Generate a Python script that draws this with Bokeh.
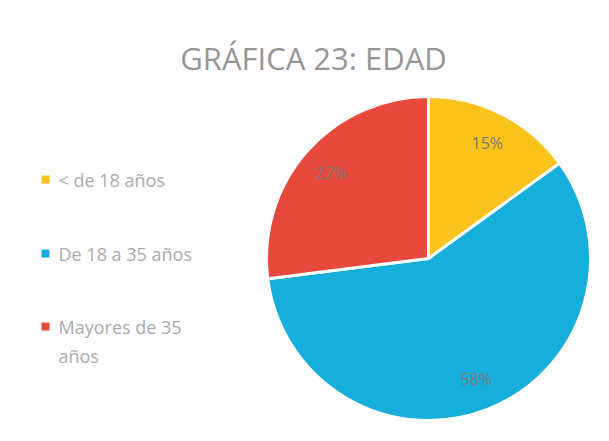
import math
from bokeh.plotting import figure
from bokeh.models import ColumnDataSource, Range1d
from bokeh.core.properties import value
from bokeh.embed import file_html
from bokeh.resources import INLINE

# data
categories = ["< de 18 años", "De 18 a 35 años", "Mayores de 35 años"]
legend_lines = [["< de 18 años"], ["De 18 a 35 años"], ["Mayores de 35", "años"]]
shares = [15, 58, 27]
colors = ["#F9C31C", "#16AEDB", "#E8493D"]
title_text = "GRÁFICA 23: EDAD"

W, H = 593, 425
p = figure(width=W, height=H, output_backend="svg", toolbar_location=None,
           x_range=Range1d(0, W), y_range=Range1d(0, H), min_border=0)
p.axis.visible = False
p.grid.visible = False
p.outline_line_color = None
p.background_fill_color = "white"

def sx(x):
    return x
def sy(y):
    return H - y

cx, cy, R = sx(428), sy(258), 162

total = sum(shares)
starts, ends, lx, ly, labels = [], [], [], [], []
ang = math.pi / 2
for s in shares:
    a = 2 * math.pi * s / total
    end = ang
    start = ang - a
    starts.append(start)
    ends.append(end)
    mid = (start + end) / 2
    lx.append(cx + 0.8 * R * math.cos(mid))
    ly.append(cy + 0.8 * R * math.sin(mid))
    labels.append(f"{s}%")
    ang = start

src = ColumnDataSource(dict(start=starts, end=ends, color=colors, cat=categories))
p.wedge(x=cx, y=cy, radius=R, start_angle="start", end_angle="end",
        fill_color="color", line_color="white", line_width=3, source=src)

p.text(x=lx, y=ly, text=labels, text_align="center", text_baseline="middle",
       text_font=value("Open Sans"), text_font_size="16px", text_color="#7a7a7a")

# title
p.text(x=[sx(313)], y=[sy(57)], text=[title_text], text_align="center",
       text_baseline="middle", text_font=value("Open Sans"),
       text_font_size="31px", text_color="#969696")

# legend
leg_y = [179, 253, 326]
mx = [sx(45)] * len(categories)
my = [sy(y) for y in leg_y]
p.scatter(x=mx, y=my, marker="square", size=8, fill_color=colors, line_color=None)
tx, ty, tt = [], [], []
for i, lines in enumerate(legend_lines):
    for j, t in enumerate(lines):
        tx.append(sx(58))
        ty.append(sy(leg_y[i] + j * 29))
        tt.append(t)
p.text(x=tx, y=ty, text=tt, text_align="left", text_baseline="middle",
       text_font=value("Open Sans"), text_font_size="18px", text_color="#ababab")

open("out.html", "w").write(file_html(p, INLINE))
